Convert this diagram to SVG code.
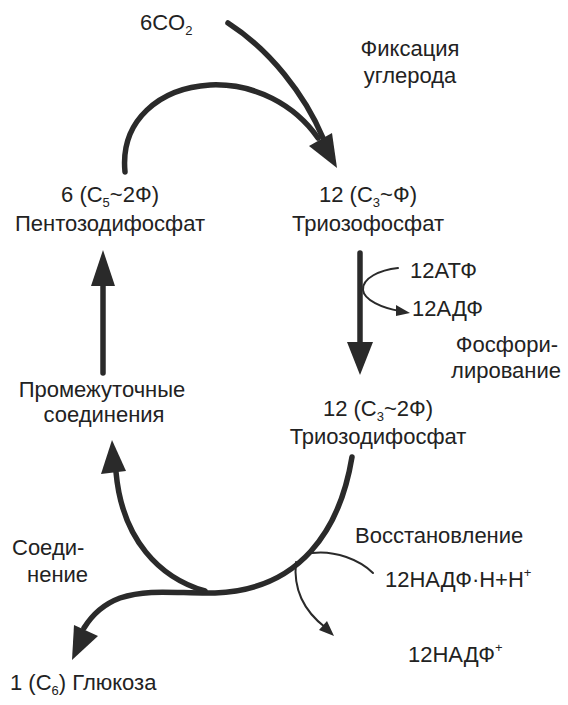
<svg xmlns="http://www.w3.org/2000/svg" width="568" height="705" viewBox="0 0 568 705">
<style>
text{font-family:"Liberation Sans",Arial,sans-serif;font-size:22px;fill:#222}
.sub{font-size:13px}
.thick{fill:none;stroke:#2a2a2a;stroke-width:5.5;stroke-linecap:round}
.thin{fill:none;stroke:#2a2a2a;stroke-width:2;stroke-linecap:round}
.head{fill:#2a2a2a}
</style>
<rect width="568" height="705" fill="#fff"/>
<g id="connectors">
<path class="thick" d="M228,23 C270,50 305,95 323,138"/>
<path class="thick" d="M125,172 C120,120 160,88 210,85 C255,83 295,105 318,138"/>
<polygon class="head" points="337,168 309,146 332,133"/>
<line class="thick" x1="103" y1="373" x2="103" y2="282"/>
<polygon class="head" points="103,250 91,286 115,286"/>
<line class="thick" x1="360" y1="253" x2="360" y2="346"/>
<polygon class="head" points="360,375 347,342 373,342"/>
<path class="thin" d="M398,268 C380,270 362,278 363,290 C364,300 382,308 400,311"/>
<polygon class="head" points="410,313 396,305 396,316"/>
<path class="thick" d="M352,457 C340,530 300,590 215,593 C180,594 150,588 120,598 C104,604 92,615 84,628"/>
<polygon class="head" points="72,660 74,625 98,636"/>
<path class="thick" d="M205,591 C160,578 122,540 116,472"/>
<polygon class="head" points="112,440 101,474 126,471"/>
<path class="thin" d="M373,573 C360,560 335,550 312,553"/>
<path class="thin" d="M296,562 C293,590 305,612 326,628"/>
<polygon class="head" points="334,636 319,630 327,621"/>
</g>
<g id="co2"><text x="140" y="30">6CO<tspan class="sub" dy="5">2</tspan></text></g>
<g id="fix"><text x="410" y="56" text-anchor="middle">Фиксация</text><text x="410" y="83" text-anchor="middle">углерода</text></g>
<g id="pentose"><text x="110" y="202" text-anchor="middle">6 (C<tspan class="sub" dy="5">5</tspan><tspan dy="-5">~2Ф)</tspan></text><text x="110" y="231" text-anchor="middle">Пентозодифосфат</text></g>
<g id="triose"><text x="368" y="202" text-anchor="middle">12 (C<tspan class="sub" dy="5">3</tspan><tspan dy="-5">~Ф)</tspan></text><text x="368" y="231" text-anchor="middle">Триозофосфат</text></g>
<g id="atp"><text x="410" y="278">12АТФ</text><text x="412" y="316">12АДФ</text></g>
<g id="phos"><text x="558" y="352" text-anchor="end">Фосфори-</text><text x="561" y="378" text-anchor="end">лирование</text></g>
<g id="inter"><text x="102" y="397" text-anchor="middle">Промежуточные</text><text x="104" y="422" text-anchor="middle">соединения</text></g>
<g id="triosedi"><text x="378" y="416" text-anchor="middle">12 (C<tspan class="sub" dy="5">3</tspan><tspan dy="-5">~2Ф)</tspan></text><text x="378" y="444" text-anchor="middle">Триозодифосфат</text></g>
<g id="reduction"><text x="355" y="543">Восстановление</text></g>
<g id="nadph"><text x="385" y="587">12НАДФ·Н+Н<tspan class="sub" dy="-10">+</tspan></text></g>
<g id="nadp"><text x="408" y="662">12НАДФ<tspan class="sub" dy="-10">+</tspan></text></g>
<g id="join"><text x="12" y="555">Соеди-</text><text x="27" y="582">нение</text></g>
<g id="glucose"><text x="10" y="690">1 (C<tspan class="sub" dy="5">6</tspan><tspan dy="-5">) Глюкоза</tspan></text></g>
</svg>
